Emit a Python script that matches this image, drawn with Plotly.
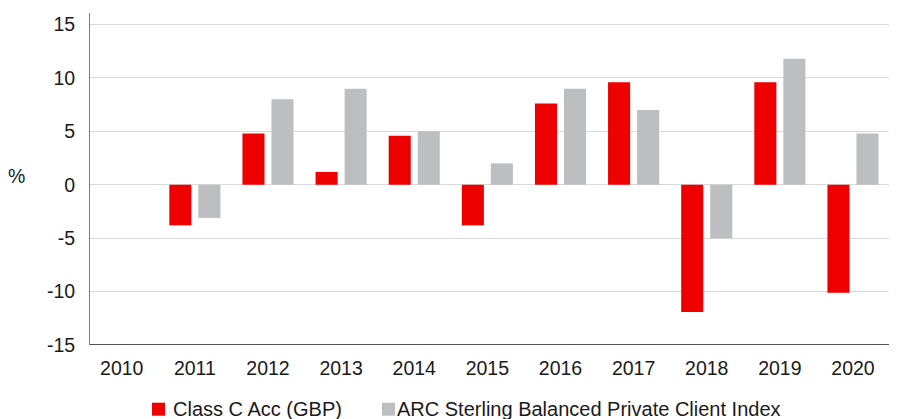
import plotly.graph_objects as go

years = ["2010", "2011", "2012", "2013", "2014", "2015", "2016", "2017", "2018", "2019", "2020"]
fund = [None, -3.8, 4.8, 1.2, 4.6, -3.8, 7.6, 9.6, -11.9, 9.6, -10.1]
index = [None, -3.1, 8.0, 9.0, 5.0, 2.0, 9.0, 7.0, -5.0, 11.8, 4.8]
y_ticks = [-15, -10, -5, 0, 5, 10, 15]
y_tick_text = ["-15", "-10", "-5", "0", "5", "10", "15"]
series_names = ["Class C Acc (GBP)", "ARC Sterling Balanced Private Client Index"]
series_colors = ["#EE0000", "#BDBEC2"]

FONT = "Liberation Sans, Arial, sans-serif"

fig = go.Figure()
fig.add_trace(go.Bar(x=years, y=fund, name=series_names[0],
                     marker=dict(color=series_colors[0], line=dict(width=0))))
fig.add_trace(go.Bar(x=years, y=index, name=series_names[1],
                     marker=dict(color=series_colors[1], line=dict(width=0))))

# page body adds an 8px offset, so the figure is sized 8px smaller
W, H = 889, 411
ML, MR, MT, MB = 82, 0, 5, 74
PW, PH = W - ML - MR, H - MT - MB


def px(x):  # figure pixel x -> paper x
    return (x - ML) / PW


def py(y):  # figure pixel y -> paper y
    return (H - MB - y) / PH


# legend (drawn by hand to match spacing of the original)
legend_items = [(144, 164), (374, 388)]  # square left, text left (figure px)
shapes = []
annotations = [dict(text="%", xref="paper", yref="y", x=-0.091, y=0.8,
                    xanchor="center", yanchor="middle", showarrow=False,
                    font=dict(size=19.5))]
for (sq, tx), name, col in zip(legend_items, series_names, series_colors):
    shapes.append(dict(type="rect", xref="paper", yref="paper",
                       x0=px(sq), x1=px(sq + 13), y0=py(407.7), y1=py(394.7),
                       fillcolor=col, line=dict(width=0)))
    annotations.append(dict(text=name, xref="paper", yref="paper", x=px(tx), y=py(401),
                            xanchor="left", yanchor="middle", showarrow=False,
                            font=dict(size=20), borderpad=0))

shapes.append(dict(type="line", xref="paper", yref="y", x0=0, x1=1, y0=-15, y1=-15,
                   line=dict(color="#1a1a1a", width=1.3), layer="above"))

fig.update_layout(
    width=W, height=H,
    margin=dict(l=ML, r=MR, t=MT, b=MB, autoexpand=False),
    paper_bgcolor="white", plot_bgcolor="white",
    font=dict(family=FONT, size=19.5, color="#1a1a1a"),
    barmode="group", bargap=0.206, bargroupgap=0.24,
    showlegend=False,
    shapes=shapes,
    annotations=annotations,
)
fig.update_xaxes(type="category", range=[-0.434, 10.602], showgrid=False,
                 showline=False, ticks="", ticklabelstandoff=9, tickfont=dict(size=19.5))
fig.update_yaxes(range=[-15, 16.08], tickvals=y_ticks, ticktext=y_tick_text,
                 showgrid=True, gridcolor="#D9D9D9",
                 gridwidth=1, zeroline=True, zerolinecolor="#D9D9D9", zerolinewidth=1,
                 showline=True, linecolor="#7f7f7f", linewidth=1, ticks="",
                 ticklabelstandoff=10, tickfont=dict(size=19.5))

fig.write_html("out.html")
